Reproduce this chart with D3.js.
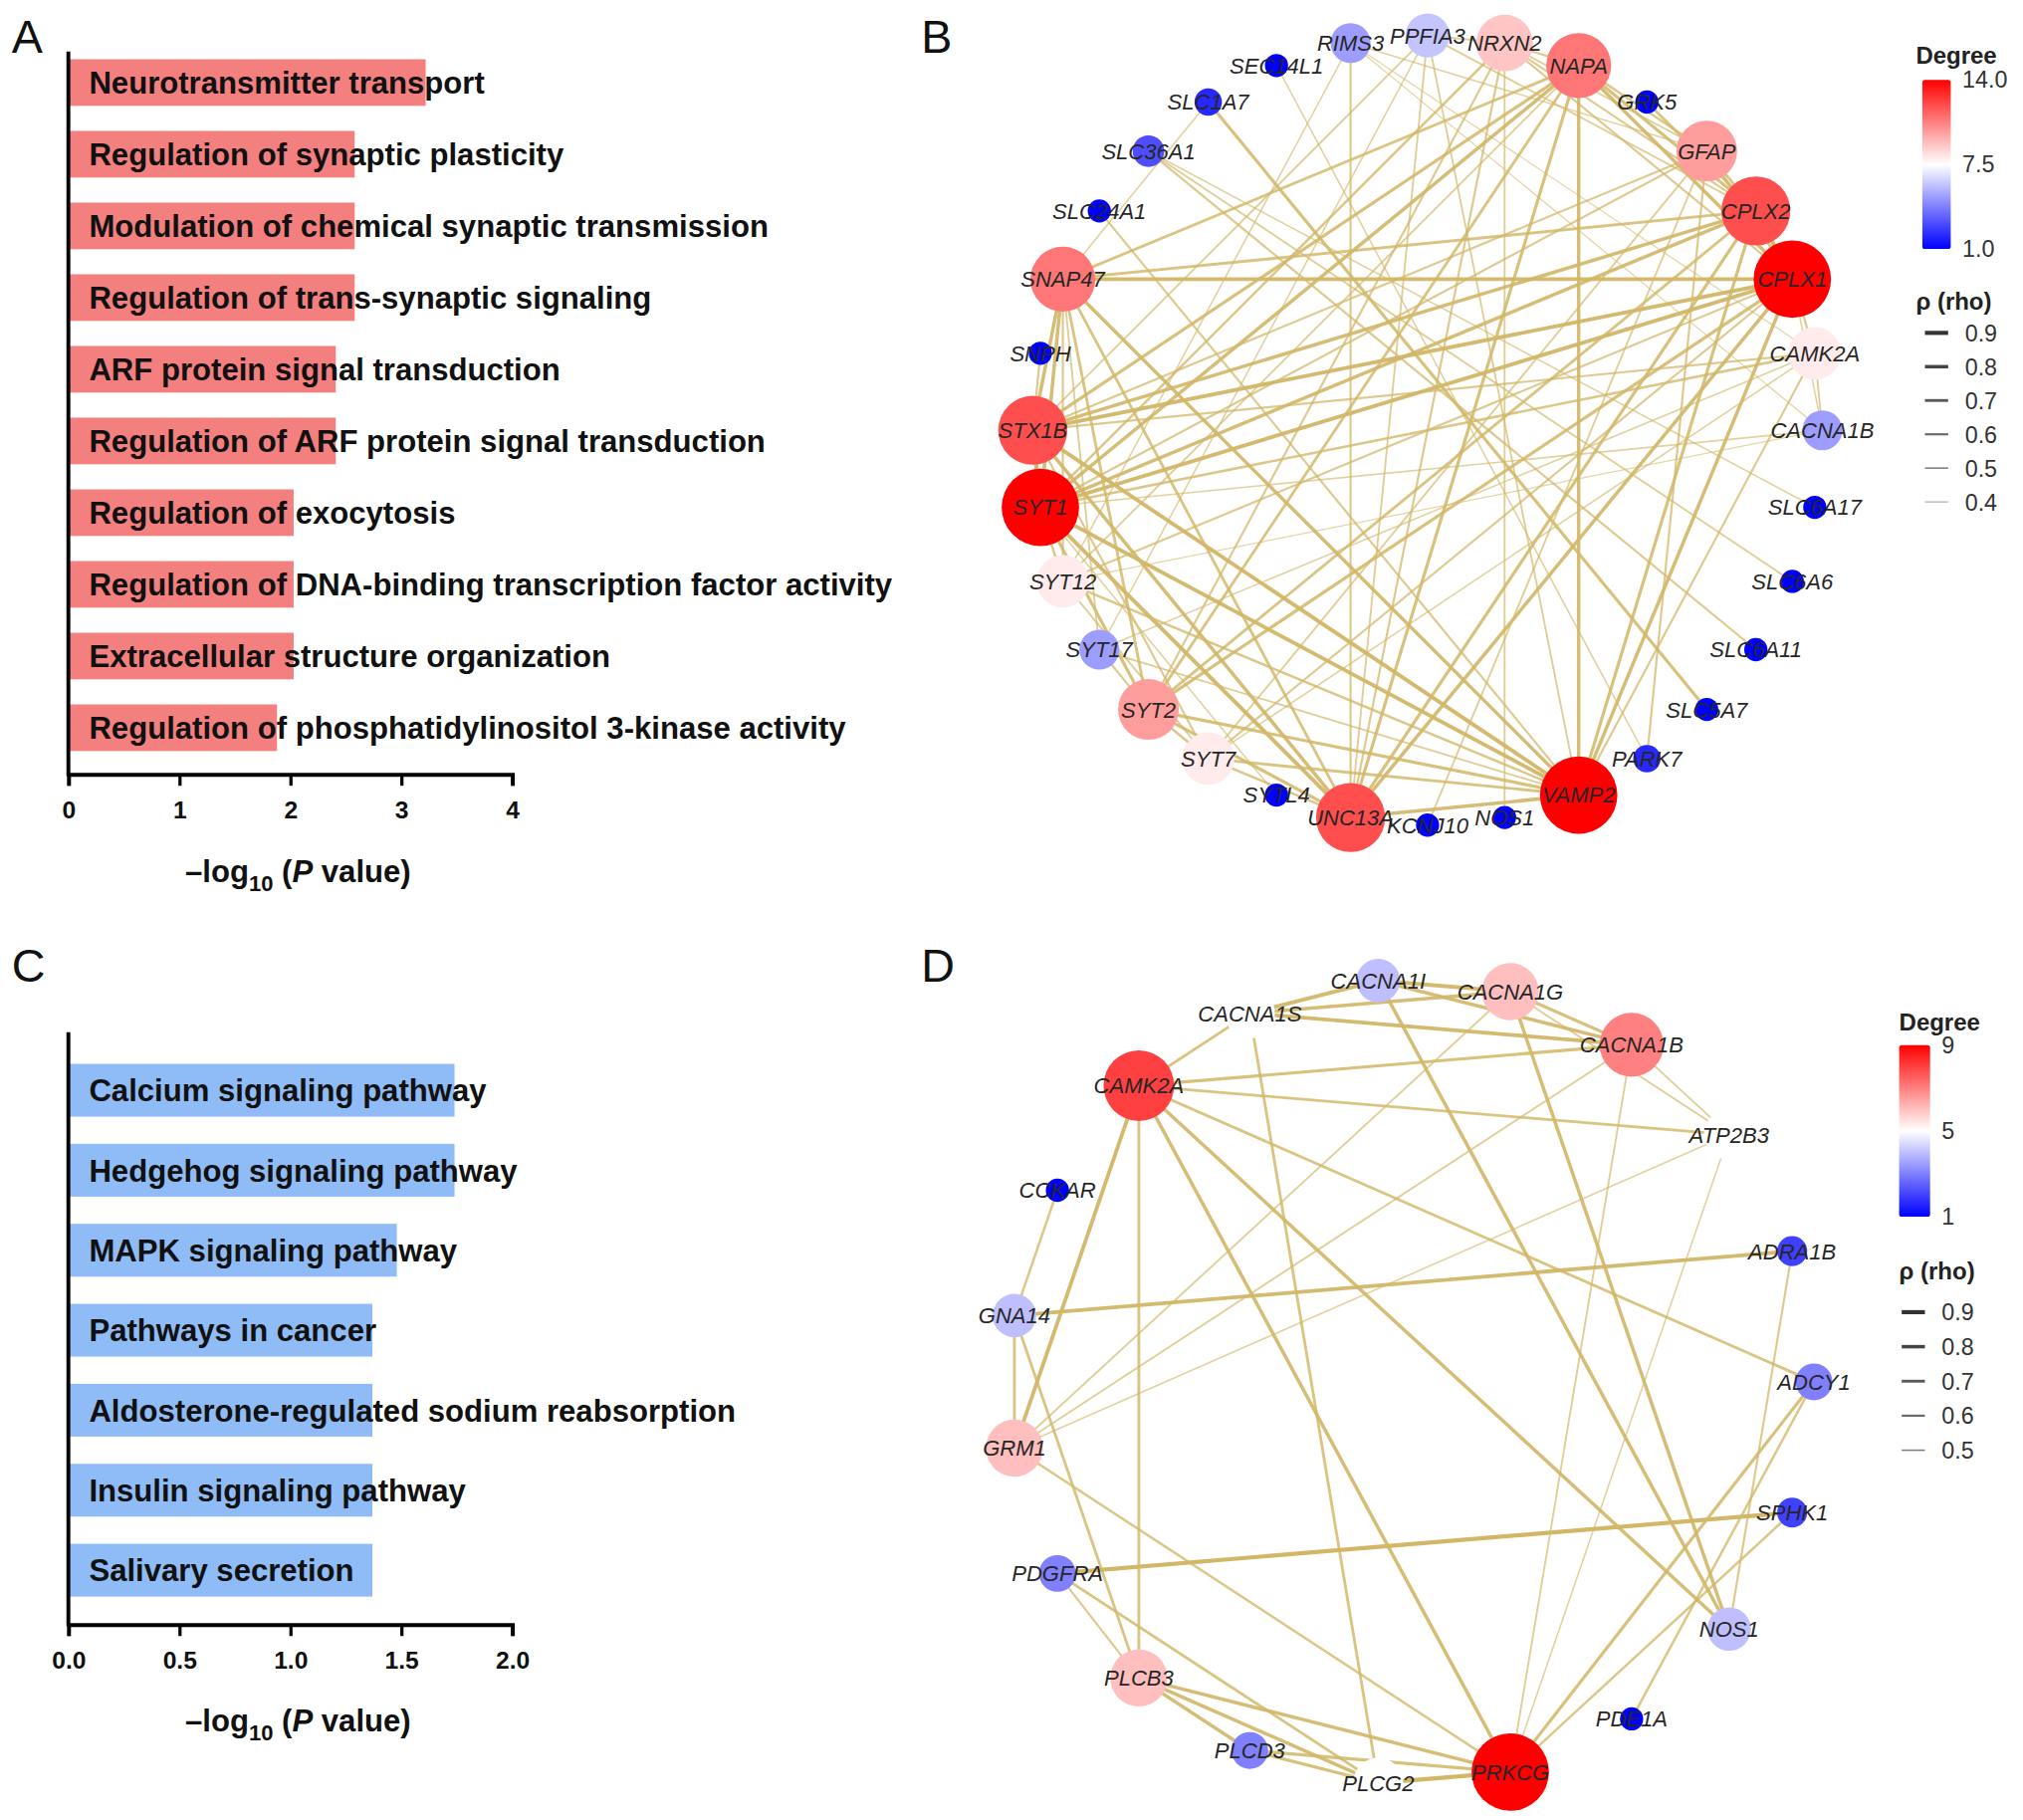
<!DOCTYPE html>
<html lang="en">
<head>
  <meta charset="UTF-8" />
  <title>GO / KEGG enrichment and co-expression networks</title>
  <style>
    body { margin: 0; background: white; }
    svg { display: block; }
    text { font-family: "Liberation Sans", Arial, Helvetica, sans-serif; }
  </style>
</head>
<body>
<svg id="fig"></svg>
<script src="https://d3js.org/d3.v7.min.js"></script>
<script>
// ---- data ----
const goTerms = [
  "Neurotransmitter transport",
  "Regulation of synaptic plasticity",
  "Modulation of chemical synaptic transmission",
  "Regulation of trans-synaptic signaling",
  "ARF protein signal transduction",
  "Regulation of ARF protein signal transduction",
  "Regulation of exocytosis",
  "Regulation of DNA-binding transcription factor activity",
  "Extracellular structure organization",
  "Regulation of phosphatidylinositol 3-kinase activity"
];
const goValues = [3.22, 2.58, 2.58, 2.58, 2.41, 2.41, 2.03, 2.03, 2.03, 1.88];
const goTicks = [0, 1, 2, 3, 4];

const keggTerms = [
  "Calcium signaling pathway",
  "Hedgehog signaling pathway",
  "MAPK signaling pathway",
  "Pathways in cancer",
  "Aldosterone-regulated sodium reabsorption",
  "Insulin signaling pathway",
  "Salivary secretion"
];
const keggValues = [1.74, 1.74, 1.48, 1.37, 1.37, 1.37, 1.37];
const keggTicks = [0, 0.5, 1.0, 1.5, 2.0];

// circular layout order, clockwise starting from the right-hand node
const netBNodes = ["CACNA1B", "SLC6A17", "SLC6A6", "SLC6A11", "SLC5A7", "PARK7", "VAMP2", "NOS1",
  "KCNJ10", "UNC13A", "SYTL4", "SYT7", "SYT2", "SYT17", "SYT12", "SYT1", "STX1B", "SNPH", "SNAP47",
  "SLC24A1", "SLC36A1", "SLC1A7", "SEC14L1", "RIMS3", "PPFIA3", "NRXN2", "NAPA", "GRK5", "GFAP",
  "CPLX2", "CPLX1", "CAMK2A"];
const netBEdges = [
  ["SLC36A1", "SLC6A17", 0.5], ["SLC36A1", "SLC6A6", 0.55], ["SLC36A1", "SLC6A11", 0.6],
  ["SLC1A7", "SLC5A7", 0.75], ["SLC1A7", "SNAP47", 0.5], ["SEC14L1", "PARK7", 0.5],
  ["PARK7", "GFAP", 0.6], ["SLC24A1", "VAMP2", 0.6], ["GRK5", "CPLX2", 0.7],
  ["SNPH", "STX1B", 0.6], ["SYTL4", "SYT1", 0.5], ["KCNJ10", "GFAP", 0.55], ["NOS1", "NRXN2", 0.55],
  ["CPLX1", "CPLX2", 0.9], ["CPLX1", "GFAP", 0.7], ["CPLX1", "NAPA", 0.8], ["CPLX1", "SNAP47", 0.85],
  ["CPLX1", "STX1B", 0.85], ["CPLX1", "SYT1", 0.85], ["CPLX1", "SYT12", 0.6], ["CPLX1", "SYT2", 0.75],
  ["CPLX1", "UNC13A", 0.8], ["CPLX1", "VAMP2", 0.8], ["CPLX1", "NRXN2", 0.6], ["CPLX1", "CAMK2A", 0.6],
  ["CPLX1", "SYT7", 0.6], ["CPLX1", "CACNA1B", 0.5],
  ["CPLX2", "NAPA", 0.75], ["CPLX2", "GFAP", 0.7], ["CPLX2", "SNAP47", 0.7], ["CPLX2", "STX1B", 0.8],
  ["CPLX2", "SYT1", 0.8], ["CPLX2", "VAMP2", 0.75], ["CPLX2", "UNC13A", 0.75], ["CPLX2", "SYT2", 0.7],
  ["CPLX2", "PPFIA3", 0.55], ["CPLX2", "NRXN2", 0.6],
  ["VAMP2", "NAPA", 0.8], ["VAMP2", "SNAP47", 0.8], ["VAMP2", "STX1B", 0.85], ["VAMP2", "SYT1", 0.85],
  ["VAMP2", "SYT12", 0.65], ["VAMP2", "SYT17", 0.55], ["VAMP2", "SYT2", 0.75], ["VAMP2", "SYT7", 0.7],
  ["VAMP2", "UNC13A", 0.8], ["VAMP2", "PPFIA3", 0.55], ["VAMP2", "CAMK2A", 0.6],
  ["SYT1", "SNAP47", 0.8], ["SYT1", "STX1B", 0.9], ["SYT1", "NAPA", 0.8], ["SYT1", "UNC13A", 0.85],
  ["SYT1", "SYT2", 0.75], ["SYT1", "SYT12", 0.65], ["SYT1", "CAMK2A", 0.65], ["SYT1", "CACNA1B", 0.5],
  ["SYT1", "GFAP", 0.6], ["SYT1", "NRXN2", 0.65],
  ["STX1B", "SNAP47", 0.8], ["STX1B", "NAPA", 0.75], ["STX1B", "UNC13A", 0.8], ["STX1B", "SYT7", 0.6],
  ["STX1B", "GFAP", 0.6], ["STX1B", "CAMK2A", 0.6], ["STX1B", "PPFIA3", 0.55],
  ["UNC13A", "RIMS3", 0.6], ["UNC13A", "NAPA", 0.75], ["UNC13A", "SYT2", 0.75], ["UNC13A", "SYT7", 0.65],
  ["UNC13A", "SNAP47", 0.7], ["UNC13A", "PPFIA3", 0.55], ["UNC13A", "NRXN2", 0.6],
  ["SNAP47", "NAPA", 0.7], ["SNAP47", "SYT12", 0.6], ["SNAP47", "SYT17", 0.55], ["SNAP47", "SYT2", 0.7],
  ["NAPA", "GFAP", 0.65], ["NAPA", "SYT2", 0.7], ["NAPA", "SYT12", 0.55], ["NAPA", "NRXN2", 0.6],
  ["GFAP", "SYT7", 0.55], ["GFAP", "NRXN2", 0.55], ["GFAP", "RIMS3", 0.5],
  ["SYT2", "SYT7", 0.65], ["SYT2", "SYT17", 0.6], ["SYT2", "NRXN2", 0.6],
  ["NRXN2", "PPFIA3", 0.55], ["SYT7", "SYT12", 0.55], ["SYT7", "CAMK2A", 0.5],
  ["SYT12", "RIMS3", 0.5], ["SYT12", "CACNA1B", 0.45], ["SYT17", "PPFIA3", 0.5], ["SYT17", "CAMK2A", 0.5],
  ["RIMS3", "CACNA1B", 0.45], ["RIMS3", "CAMK2A", 0.45], ["CAMK2A", "CACNA1B", 0.55]
];
const netBDegreeTicks = [1, 7.5, 14];
const netBRhoTicks = [0.9, 0.8, 0.7, 0.6, 0.5, 0.4];

const netDNodes = ["ADCY1", "SPHK1", "NOS1", "PDE1A", "PRKCG", "PLCG2", "PLCD3", "PLCB3", "PDGFRA",
  "GRM1", "GNA14", "CCKAR", "CAMK2A", "CACNA1S", "CACNA1I", "CACNA1G", "CACNA1B", "ATP2B3", "ADRA1B"];
const netDEdges = [
  ["CACNA1I", "CACNA1G", 0.85], ["CACNA1I", "CACNA1S", 0.85], ["CACNA1I", "CACNA1B", 0.8],
  ["CACNA1S", "CACNA1G", 0.8], ["CACNA1S", "CACNA1B", 0.85], ["CACNA1G", "CACNA1B", 0.75],
  ["CACNA1G", "ATP2B3", 0.55], ["CACNA1B", "ATP2B3", 0.55],
  ["CAMK2A", "CACNA1S", 0.7], ["CAMK2A", "CACNA1B", 0.75], ["CAMK2A", "ATP2B3", 0.7],
  ["CAMK2A", "GRM1", 0.85], ["CAMK2A", "PLCB3", 0.7], ["CAMK2A", "PRKCG", 0.8],
  ["CAMK2A", "NOS1", 0.8], ["CAMK2A", "ADCY1", 0.7],
  ["CACNA1I", "NOS1", 0.8], ["CACNA1G", "NOS1", 0.8], ["ADRA1B", "NOS1", 0.6],
  ["GNA14", "ADRA1B", 0.85], ["GNA14", "CCKAR", 0.65], ["GNA14", "GRM1", 0.7], ["GNA14", "PLCB3", 0.7],
  ["CACNA1S", "PLCG2", 0.7],
  ["GRM1", "CACNA1G", 0.55], ["GRM1", "CACNA1B", 0.55], ["GRM1", "ATP2B3", 0.5], ["GRM1", "PRKCG", 0.65],
  ["CACNA1B", "PRKCG", 0.55], ["ATP2B3", "PRKCG", 0.5],
  ["PRKCG", "ADCY1", 0.75], ["PRKCG", "SPHK1", 0.65], ["PDE1A", "ADCY1", 0.65],
  ["SPHK1", "PDGFRA", 0.9], ["PDGFRA", "PLCB3", 0.6], ["PDGFRA", "PLCG2", 0.7],
  ["PLCB3", "PLCD3", 0.8], ["PLCB3", "PLCG2", 0.8], ["PLCB3", "PRKCG", 0.8],
  ["PLCD3", "PLCG2", 0.75], ["PLCD3", "PRKCG", 0.75], ["PLCG2", "PRKCG", 0.9]
];
const netDDegreeTicks = [1, 5, 9];
const netDRhoTicks = [0.9, 0.8, 0.7, 0.6, 0.5];

// ---- drawing ----
const W = 1568, H = 1410.6;
const svg = d3.select("#fig")
  .attr("width", 2032)
  .attr("height", 1828)
  .attr("viewBox", [0, 0, W, H]);

svg.append("rect").attr("width", W).attr("height", H).attr("fill", "white");

const edgeColor = "#d2b767";

function axisTitle(g, cx, y) {
  const t = g.append("text")
    .attr("x", cx).attr("y", y)
    .attr("text-anchor", "middle")
    .attr("font-size", 24).attr("font-weight", "bold").attr("fill", "#111");
  t.append("tspan").text("\u2013log");
  t.append("tspan").attr("font-size", 17).attr("dy", 7).text("10");
  t.append("tspan").attr("dy", -7).text(" (");
  t.append("tspan").attr("font-style", "italic").text("P");
  t.append("tspan").text(" value)");
}

function barPanel(terms, values, o) {
  const g = svg.append("g");
  const x = d3.scaleLinear().domain(o.domain).range([53, 397]);
  const y = d3.scaleBand().domain(terms).range(o.band)
    .paddingInner(o.pad).paddingOuter(o.pad / 2);

  g.selectAll("rect.bar")
    .data(terms)
    .join("rect")
    .attr("class", "bar")
    .attr("x", x(0))
    .attr("y", d => y(d))
    .attr("width", (d, i) => x(values[i]) - x(0))
    .attr("height", y.bandwidth())
    .attr("fill", o.color);

  g.selectAll("text.term")
    .data(terms)
    .join("text")
    .attr("class", "term")
    .attr("x", x(0) + 16)
    .attr("y", d => y(d) + y.bandwidth() / 2)
    .attr("dy", "0.36em")
    .attr("font-size", 24)
    .attr("font-weight", "bold")
    .attr("fill", "#111")
    .text(d => d);

  const ax = g.append("g")
    .attr("transform", `translate(0,${o.axisY})`)
    .call(d3.axisBottom(x).tickValues(o.ticks).tickFormat(o.fmt)
      .tickSize(9).tickSizeOuter(9).tickPadding(12));
  ax.select(".domain").attr("stroke", "#000").attr("stroke-width", 3);
  ax.selectAll(".tick line").attr("stroke", "#000").attr("stroke-width", 2.5);
  ax.selectAll(".tick text")
    .attr("font-family", '"Liberation Sans", Arial, sans-serif')
    .attr("font-size", 19).attr("font-weight", "bold").attr("fill", "#111");

  g.append("line")
    .attr("x1", x(0)).attr("x2", x(0))
    .attr("y1", o.axisTop).attr("y2", o.axisY + 1.5)
    .attr("stroke", "#000").attr("stroke-width", 3);

  axisTitle(g, (x.range()[0] + x.range()[1]) / 2 + 6, o.titleY);
}

function network(nodes, edges, o) {
  const g = svg.append("g");
  const n = nodes.length;
  const pos = new Map(nodes.map((id, i) => {
    const a = i * 2 * Math.PI / n;
    return [id, { x: o.cx + o.r * Math.cos(a), y: o.cy + o.r * Math.sin(a) }];
  }));
  const degree = new Map(nodes.map(id => [id, 0]));
  edges.forEach(([s, t]) => {
    degree.set(s, degree.get(s) + 1);
    degree.set(t, degree.get(t) + 1);
  });

  const color = d3.scaleLinear().domain(o.degTicks).range(["#0000ff", "#ffffff", "#ff0000"]);
  const size = d3.scaleLinear().domain([o.degTicks[0], o.degTicks[2]]).range([9, 30]);
  const width = d3.scaleLinear().domain([0.4, 0.9]).range([0.7, 3.2]);
  const opac = d3.scaleLinear().domain([0.4, 0.9]).range([0.55, 1]);

  g.append("g")
    .selectAll("line")
    .data(edges)
    .join("line")
    .attr("x1", d => pos.get(d[0]).x)
    .attr("y1", d => pos.get(d[0]).y)
    .attr("x2", d => pos.get(d[1]).x)
    .attr("y2", d => pos.get(d[1]).y)
    .attr("stroke", edgeColor)
    .attr("stroke-width", d => width(d[2]))
    .attr("stroke-opacity", d => opac(d[2]));

  const node = g.append("g")
    .selectAll("g")
    .data(nodes)
    .join("g")
    .attr("transform", d => `translate(${pos.get(d).x},${pos.get(d).y})`);

  node.append("circle")
    .attr("r", d => size(degree.get(d)))
    .attr("fill", d => color(degree.get(d)));

  node.append("text")
    .text(d => d)
    .attr("text-anchor", "middle")
    .attr("dy", "0.36em")
    .attr("font-size", 17)
    .attr("font-style", "italic")
    .attr("fill", "#262626");

  // legend
  const lg = svg.append("g");
  lg.append("text")
    .attr("x", o.lx).attr("y", o.legTop)
    .attr("dy", "0.36em")
    .attr("font-size", 18.5).attr("font-weight", "bold").attr("fill", "#222")
    .text("Degree");

  const gid = "grad" + o.id;
  const grad = svg.append("defs").append("linearGradient")
    .attr("id", gid).attr("x1", 0).attr("y1", 1).attr("x2", 0).attr("y2", 0);
  o.degTicks.forEach((v, i) => {
    grad.append("stop")
      .attr("offset", i / (o.degTicks.length - 1))
      .attr("stop-color", color(v));
  });

  const cb = d3.scaleLinear().domain([o.degTicks[0], o.degTicks[2]]).range([o.cbBottom, o.cbTop]);
  lg.append("rect")
    .attr("x", o.cbx).attr("y", o.cbTop)
    .attr("width", o.cbw).attr("height", o.cbBottom - o.cbTop)
    .attr("rx", 2)
    .attr("fill", `url(#${gid})`);

  const cax = lg.append("g")
    .attr("transform", `translate(${o.cbx + o.cbw},0)`)
    .call(d3.axisRight(cb).tickValues(o.degTicks).tickFormat(d3.format(o.degFmt)).tickSize(0).tickPadding(9));
  cax.select(".domain").remove();
  cax.selectAll("text")
    .attr("font-family", '"Liberation Sans", Arial, sans-serif')
    .attr("font-size", 18).attr("fill", "#333");

  lg.append("text")
    .attr("x", o.lx).attr("y", o.rhoTop)
    .attr("dy", "0.36em")
    .attr("font-size", 18.5).attr("font-weight", "bold").attr("fill", "#222")
    .text("\u03c1 (rho)");

  const ry = d3.scalePoint().domain(o.rhoTicks).range([o.rhoY0, o.rhoY1]);
  const item = lg.selectAll("g.rho")
    .data(o.rhoTicks)
    .join("g")
    .attr("class", "rho")
    .attr("transform", d => `translate(${o.cbx + 2},${ry(d)})`);
  item.append("line")
    .attr("x1", 0).attr("x2", 18)
    .attr("stroke", "#333")
    .attr("stroke-width", d => width(d))
    .attr("stroke-opacity", d => opac(d));
  item.append("text")
    .attr("x", 31).attr("dy", "0.36em")
    .attr("font-size", 18).attr("fill", "#333")
    .text(d => d3.format(".1f")(d));
}

// panel letters
const letters = [["A", 9, 41], ["B", 714, 41], ["C", 9, 761], ["D", 714, 761]];
svg.selectAll("text.panel")
  .data(letters)
  .join("text")
  .attr("class", "panel")
  .attr("x", d => d[1]).attr("y", d => d[2])
  .attr("font-size", 36).attr("fill", "#111")
  .text(d => d[0]);

barPanel(goTerms, goValues, {
  domain: [0, 4], ticks: goTicks, fmt: d3.format("d"),
  band: [36.2, 591.8], pad: 0.35, color: "#f47f7f",
  axisY: 600, axisTop: 40, titleY: 684
});

barPanel(keggTerms, keggValues, {
  domain: [0, 2], ticks: keggTicks, fmt: d3.format(".1f"),
  band: [814, 1248], pad: 0.34, color: "#8fbcf6",
  axisY: 1259, axisTop: 800, titleY: 1342
});

network(netBNodes, netBEdges, {
  id: "B", cx: 1106.5, cy: 333.5, r: 306,
  degTicks: netBDegreeTicks, degFmt: ".1f", rhoTicks: netBRhoTicks,
  lx: 1485, legTop: 43, cbx: 1490, cbw: 22, cbTop: 62, cbBottom: 193,
  rhoTop: 233, rhoY0: 258, rhoY1: 389
});

network(netDNodes, netDEdges, {
  id: "D", cx: 1094, cy: 1071, r: 312,
  degTicks: netDDegreeTicks, degFmt: "d", rhoTicks: netDRhoTicks,
  lx: 1472, legTop: 792, cbx: 1472, cbw: 24, cbTop: 810, cbBottom: 943,
  rhoTop: 985, rhoY0: 1017, rhoY1: 1124
});
</script>
</body>
</html>
